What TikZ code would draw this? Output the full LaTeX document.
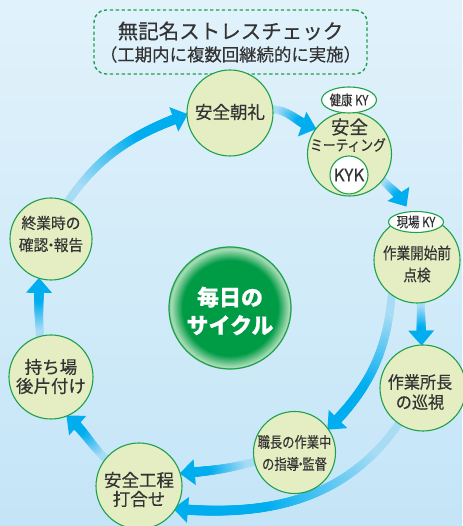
\documentclass[tikz,border=0pt]{standalone}
\usepackage{fontspec}
\setmainfont{Noto Sans CJK JP}[FakeBold=0.35]
\newfontfamily\jpA{Noto Sans CJK JP}[FakeStretch=0.85,FakeBold=0.35]
\newfontfamily\jpB{Noto Sans CJK JP}[FakeStretch=0.82,FakeBold=0.35]
\newfontfamily\jpC{Noto Sans CJK JP}[FakeStretch=0.95,FakeBold=0.35]
\usetikzlibrary{shapes.geometric,decorations.markings,calc}
\definecolor{bgtop}{HTML}{E1F2FB}
\definecolor{bgbot}{HTML}{C4E5F7}
\definecolor{cfill}{HTML}{E5EEC2}
\definecolor{cborder}{HTML}{1FA04B}
\definecolor{textc}{HTML}{333333}
\definecolor{flowdark}{HTML}{00AEEF}
\definecolor{flowlight}{HTML}{A8DCF5}
\definecolor{hubg}{HTML}{009B45}
\definecolor{hubglow}{HTML}{A9DDB7}
\definecolor{hubedge}{HTML}{7CC794}
\pgfdeclareradialshading{hubshade}{\pgfpoint{0bp}{0bp}}{color(0bp)=(hubg); color(19.5bp)=(hubg); color(24.2bp)=(hubglow); color(25bp)=(hubedge); color(50bp)=(hubedge)}
\pgfdeclarelayer{backg}
\pgfdeclarelayer{flows}
\pgfsetlayers{backg,flows,main}
\newcommand\ndot{\kern-0.3em・\kern-0.3em}
\tikzset{
  stage/.style={circle, draw=cborder, line width=1.1pt, fill=cfill, inner sep=0pt, outer sep=0pt, minimum size=#1},
  tag/.style={ellipse, draw=cborder, line width=1.1pt, fill=white, inner sep=0pt, outer sep=0pt, text=textc},
  lbl/.style={align=center, inner sep=0pt, text=textc},
  flow/.style={decorate, decoration={markings,
    mark=between positions 0 and -11pt step 0.7pt with {
      \pgfmathsetmacro\fr{\pgfkeysvalueof{/pgf/decoration/mark info/distance from start}/\pgfdecoratedpathlength}
      \pgfmathtruncatemacro\gp{100*min(1,max(0,(\fr-0.15)/0.5))}
      \pgfmathsetmacro\rr{3.8+1.4*\fr}
      \fill[flowdark!\gp!flowlight] (0,0) circle[radius=\rr pt];
    },
    mark=at position -3pt with {\fill[flowdark] (3.5pt,0) -- (-11.5pt,13pt) -- (-11.5pt,-13pt) -- cycle;}
  }}
}
\begin{document}
\begin{tikzpicture}[x=1pt,y=1pt]
\useasboundingbox (0,0) rectangle (462,526);
\begin{pgfonlayer}{backg}
  \shade[top color=bgtop,bottom color=bgbot] (0,0) rectangle (462,526);
\end{pgfonlayer}

% title box
\node[draw=cborder, dash pattern=on 3.3pt off 2.6pt, line width=1.4pt, rounded corners=12pt,
      minimum width=273, minimum height=64, inner sep=0pt] (title) at (230.5,484) {};
\node[lbl, font=\fontsize{20.5}{24}\selectfont] (title1) at (230.5,495) {無記名ストレスチェック};
\node[lbl, font=\fontsize{17.4}{20}\selectfont] (title2) at (230.5,471.5) {（工期内に複数回継続的に実施）};

% stage circles
\node[stage=86] (asa) at (230,413) {};
\node[stage=84] (meet) at (349.5,372) {};
\node[stage=86] (kaishi) at (417,266) {};
\node[stage=86] (junshi) at (423,138) {};
\node[stage=82] (shokucho) at (294.5,73.5) {};
\node[stage=86] (uchiawase) at (139,40) {};
\node[stage=84] (mochiba) at (51,149) {};
\node[stage=82] (shugyo) at (51,287) {};
\node[circle, shade, shading=hubshade, draw=cborder, line width=1.2pt, minimum size=122, inner sep=0pt] (hub) at (230,218) {};

% small tags
\node[tag, minimum width=48, minimum height=26, font=\jpB\fontsize{14}{16}\selectfont] (kenko) at (349,426) {健康 KY};
\node[circle, draw=cborder, line width=1.1pt, fill=white, minimum size=38, inner sep=0pt, text=textc, font=\fontsize{17}{19}\selectfont] (kyk) at (349,351) {KYK};
\node[tag, minimum width=47, minimum height=21, font=\jpB\fontsize{14}{16}\selectfont] (genba) at (416,304) {現場 KY};

% texts
\node[lbl, font=\fontsize{17.5}{20}\selectfont] (asa-t) at (230,414) {安全朝礼};
\node[lbl, font=\fontsize{18.5}{20}\selectfont] (meet-t1) at (349.5,399) {安全};
\node[lbl, font=\jpA\fontsize{15}{18}\selectfont] (meet-t2) at (348,381) {ミーティング};
\node[lbl, font=\jpA\fontsize{16}{22}\selectfont] (kaishi-t) at (417,262) {作業開始前\\点検};
\node[lbl, font=\jpC\fontsize{17}{20}\selectfont] (junshi-t) at (420,134) {作業所長\\の巡視};
\node[lbl, font=\jpB\fontsize{15}{22}\selectfont] (shokucho-t) at (294.5,73) {職長の作業中\\の指導\ndot 監督};
\node[lbl, font=\fontsize{17.5}{19}\selectfont] (uchiawase-t) at (139,36.5) {安全工程\\打合せ};
\node[lbl, font=\fontsize{17.5}{19}\selectfont] (mochiba-t) at (51,149.5) {持ち場\\後片付け};
\node[lbl, font=\jpC\fontsize{15.5}{22}\selectfont] (shugyo-t) at (51,292) {終業時の\\確認\ndot 報告};
\node[lbl, text=white, font=\bfseries\fontsize{22}{28}\selectfont] (hub-t) at (230,215) {毎日の\\サイクル};

% flows
\coordinate (genbaTip) at ([yshift=6pt]genba.135);
\begin{pgfonlayer}{flows}
  \path[flow] (shugyo.66) to[out=55,in=200] (asa.182);
  \path[flow] (asa.5) to[out=-5,in=165] (meet.143);
  \path[flow] (meet.-38) to[out=-48,in=120] (genbaTip);
  \path[flow] (kaishi.-85) to (junshi.92);
  \path[flow] (kaishi.234) to[out=-95,in=45] (shokucho.35);
  \path[flow] (junshi.236) to[out=-125,in=-5] (uchiawase.-32);
  \path[flow] (shokucho.193) to[out=195,in=5] (uchiawase.17);
  \path[flow] (uchiawase.141) to[out=135,in=-40] (mochiba.-68);
  \path[flow] (mochiba.105) to[out=95,in=-90] (shugyo.-107);
\end{pgfonlayer}
\end{tikzpicture}
\end{document}
